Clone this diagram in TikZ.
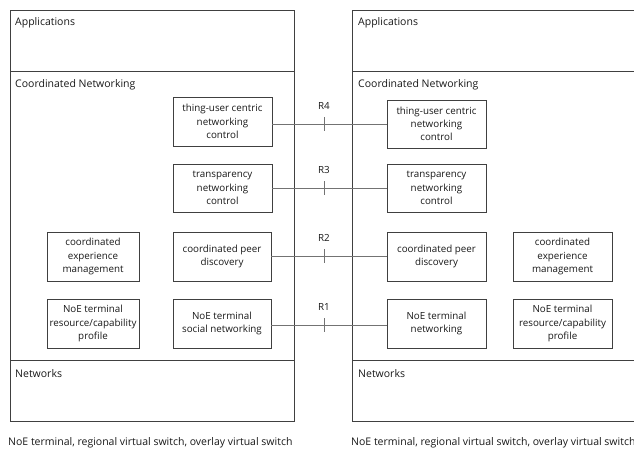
\documentclass[tikz,border=0pt]{standalone}
\usepackage{fontspec}
\setmainfont{Open Sans}
\begin{document}
\begin{tikzpicture}[x=1pt,y=-1pt,
  panel/.style={draw=black!75,line width=0.8pt},
  fbox/.style={draw=black!75,line width=0.8pt,align=center,text=black!90,
    font=\fontsize{9.8}{13.3}\selectfont,inner sep=0pt},
  layer/.style={anchor=west,text=black!90,font=\fontsize{10.5}{12}\selectfont,inner sep=0pt},
  link/.style={draw=black!55,line width=0.8pt},
  tick/.style={draw=black!55,line width=0.8pt},
  rlabel/.style={text=black!90,font=\fontsize{9.8}{12}\selectfont,inner sep=0pt}]
\clip (0,0) rectangle (634,450);
\fill[white] (0,0) rectangle (634,450);

% left entity
\draw[panel] (10,10) rectangle (294,421);
\draw[panel] (10,71) -- (294,71);
\draw[panel] (10,360) -- (294,360);
\node[layer] (lapp) at (15,22.5) {Applications};
\node[layer] (lcn) at (15,84.5) {Coordinated Networking};
\node[layer] (lnet) at (15,374) {Networks};

% right entity (continues past the frame)
\draw[panel] (650,10) -- (352,10) -- (352,421) -- (650,421);
\draw[panel] (352,71) -- (650,71);
\draw[panel] (352,360) -- (650,360);
\node[layer] (rapp) at (358,22.5) {Applications};
\node[layer] (rcn) at (358,84.5) {Coordinated Networking};
\node[layer] (rnet) at (358,374) {Networks};

% left functional blocks
\node[fbox,minimum width=99pt,minimum height=49pt] (ltu) at (222.5,121.5) {thing-user centric\\networking\\control};
\node[fbox,minimum width=99pt,minimum height=48pt] (ltr) at (222.5,188) {transparency\\networking\\control};
\node[fbox,minimum width=98pt,minimum height=49pt] (lcp) at (222,256.5) {coordinated peer\\discovery};
\node[fbox,minimum width=98pt,minimum height=49pt] (lsn) at (222,323.5) {NoE terminal\\social networking};
\node[fbox,minimum width=92pt,minimum height=49pt] (lce) at (93,256.5) {coordinated\\experience\\management};
\node[fbox,minimum width=92pt,minimum height=49pt] (lrp) at (93,323.5) {NoE terminal\\resource/capability\\profile};

% right functional blocks
\node[fbox,minimum width=99pt,minimum height=48pt] (rtu) at (436.5,124) {thing-user centric\\networking\\control};
\node[fbox,minimum width=99pt,minimum height=48pt] (rtr) at (436.5,188) {transparency\\networking\\control};
\node[fbox,minimum width=99pt,minimum height=49pt] (rcp) at (436.5,256.5) {coordinated peer\\discovery};
\node[fbox,minimum width=99pt,minimum height=49pt] (rtn) at (436.5,323.5) {NoE terminal\\networking};
\node[fbox,minimum width=99pt,minimum height=49pt] (rce) at (562.5,256.5) {coordinated\\experience\\management};
\node[fbox,minimum width=99pt,minimum height=49pt] (rrp) at (562.5,323.5) {NoE terminal\\resource/capability\\profile};

% reference points
\draw[link] (ltu.east |- 0,124) -- (rtu.west);
\draw[link] (ltr) -- (rtr);
\draw[link] (lcp) -- (rcp);
\draw[link] (lsn.east |- 0,325) -- (rtn.west |- 0,325);
\foreach \y/\r in {124/4,188/3,256/2,325/1}{
  \draw[tick] (324,\y-7) -- (324,\y+7);
  \node[rlabel] (ref\r) at (324,\y-18) {R\r};
}

% captions
\node[layer] (lcap) at (8,443) {NoE terminal, regional virtual switch, overlay virtual switch};
\node[layer] (rcap) at (351,443) {NoE terminal, regional virtual switch, overlay virtual switch};
\end{tikzpicture}
\end{document}
